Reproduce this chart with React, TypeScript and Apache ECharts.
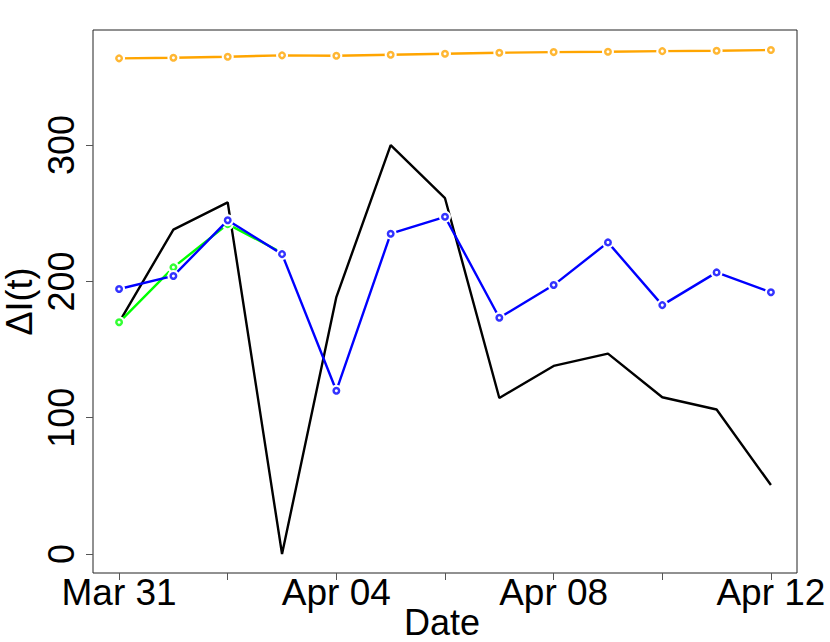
import React, { useEffect, useRef } from "react";
import * as echarts from "echarts";

const dayLabels = [
  "Mar 31", "Apr 01", "Apr 02", "Apr 03", "Apr 04", "Apr 05", "Apr 06",
  "Apr 07", "Apr 08", "Apr 09", "Apr 10", "Apr 11", "Apr 12",
];
const blackValues = [170, 238, 258, 0, 188.5, 300, 261, 114.5, 138, 147, 115, 106, 50.6];
const greenValues = [170, 210.3, 242, 221];
const blueValues = [194.4, 204, 244.8, 220, 119.8, 235, 247.4, 173.3, 197.3, 228.6, 182.6, 206.6, 192];
const orangeValues = [363.6, 364.0, 364.8, 365.8, 365.5, 366.3, 367.0, 367.7, 368.2, 368.4, 368.9, 369.2, 369.7];
const xTickDays = [0, 2, 4, 6, 8, 10, 12];
const xLabelDays = [0, 4, 8, 12];
const yTicks = [0, 100, 200, 300];
const xTitle = "Date";
const yTitle = "ΔI(t)";

const FONT = '"Liberation Sans", Arial, Helvetica, sans-serif';

function toPairs(vals: number[]) {
  return vals.map((v, i) => [i, v]);
}

function pointedSeries(vals: number[], color: string, z: number) {
  const data = toPairs(vals);
  return [
    {
      type: "line",
      data,
      z,
      symbol: "circle",
      symbolSize: 12,
      showSymbol: true,
      itemStyle: { color: "#ffffff", borderWidth: 0 },
      lineStyle: { color, width: 2.4 },
      silent: true,
    },
    {
      type: "scatter",
      data,
      z: z + 1,
      symbol: "circle",
      symbolSize: 5.5,
      itemStyle: { color: "#ffffff", borderColor: color, borderWidth: 2.5 },
      silent: true,
    },
  ];
}

export default function App() {
  const ref = useRef<HTMLDivElement>(null);
  useEffect(() => {
    if (!ref.current) return;
    const chart = echarts.init(ref.current, null, { renderer: "svg" });
    chart.setOption({
      animation: false,
      backgroundColor: "#ffffff",
      grid: {
        left: 93,
        right: 33,
        top: 30,
        bottom: 69,
        show: true,
        borderColor: "#222",
        borderWidth: 1,
      },
      xAxis: {
        type: "value",
        min: -0.48,
        max: 12.48,
        splitLine: { show: false },
        axisLine: { show: false, onZero: false },
        axisTick: {
          show: true,
          customValues: xTickDays,
          length: 7,
          lineStyle: { color: "#555", width: 1 },
        },
        axisLabel: {
          customValues: xLabelDays,
          formatter: (v: number) => dayLabels[Math.round(v)] ?? "",
          fontSize: 37,
          fontFamily: FONT,
          color: "#000",
          margin: 1,
        },
      },
      yAxis: {
        type: "value",
        min: -13.9,
        max: 384.4,
        splitLine: { show: false },
        axisLine: { show: false, onZero: false },
        axisTick: {
          show: true,
          customValues: yTicks,
          length: 7,
          lineStyle: { color: "#555", width: 1 },
        },
        axisLabel: {
          customValues: yTicks,
          rotate: 90,
          fontSize: 36,
          fontFamily: FONT,
          color: "#000",
          margin: 14,
        },
      },
      graphic: [
        {
          type: "text",
          x: 19,
          y: 301.5,
          rotation: Math.PI / 2,
          style: {
            text: yTitle,
            font: `36px ${FONT}`,
            lineHeight: 30,
            fill: "#000",
            textAlign: "center",
            textVerticalAlign: "middle",
          },
        },
        {
          type: "text",
          x: 442,
          y: 622,
          style: {
            text: xTitle,
            font: `36px ${FONT}`,
            lineHeight: 28,
            fill: "#000",
            textAlign: "center",
            textVerticalAlign: "middle",
          },
        },
      ],
      series: [
        {
          type: "line",
          data: toPairs(blackValues),
          z: 1,
          symbol: "none",
          lineStyle: { color: "#000000", width: 2.4 },
          silent: true,
        },
        ...pointedSeries(greenValues, "#00ff00", 2),
        ...pointedSeries(blueValues, "#0000ff", 4),
        ...pointedSeries(orangeValues, "#ffa500", 6),
      ],
    });
    return () => chart.dispose();
  }, []);
  return (
    <div
      ref={ref}
      style={{ position: "absolute", left: 0, top: 0, width: 830, height: 642 }}
    />
  );
}
